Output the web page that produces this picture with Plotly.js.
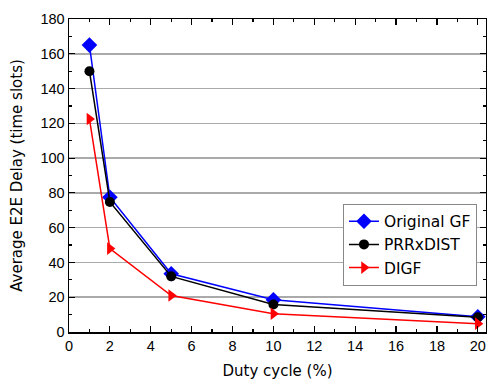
<!DOCTYPE html>
<html>
<head>
<meta charset="utf-8">
<script src="https://cdn.plot.ly/plotly-3.0.1.min.js"></script>
<style>html,body{margin:0;padding:0;background:#fff;}#chart{width:487px;height:381px;}</style>
</head>
<body>
<div id="chart"></div>
<script>
const dutyCycle = [1, 2, 5, 10, 20];
const originalGF = [165, 77.5, 33.5, 18.5, 8.8];
const prrDist = [150, 74.8, 32, 15.8, 8.5];
const digf = [122.5, 48, 21, 10.5, 4.8];
const seriesNames = ["Original GF", "PRRxDIST", "DIGF"];

const tickFont = "Liberation Sans, Arial, sans-serif";
const textFont = "DejaVu Sans, sans-serif";
const traces = [
  {x: dutyCycle, y: originalGF, name: seriesNames[0], mode: "lines+markers",
   line: {color: "#0000ff", width: 1.5}, marker: {symbol: "diamond", size: 12, color: "#0000ff"}},
  {x: dutyCycle, y: prrDist, name: seriesNames[1], mode: "lines+markers",
   line: {color: "#000000", width: 1.5}, marker: {symbol: "circle", size: 10, color: "#000000"}},
  {x: dutyCycle, y: digf, name: seriesNames[2], mode: "lines+markers",
   line: {color: "#ff0000", width: 1.5}, marker: {symbol: "triangle-right", size: 11, color: "#ff0000"}}
];
const axisCommon = {
  showline: true, linecolor: "#000", linewidth: 1.5, mirror: "ticks",
  ticks: "inside", ticklen: 6, tickwidth: 1.2, tickcolor: "#000",
  tickfont: {family: tickFont, size: 14.5, color: "#000"}, zeroline: false
};
const layout = {
  width: 487, height: 381,
  margin: {l: 69, r: 1, t: 19, b: 49},
  paper_bgcolor: "#fff", plot_bgcolor: "#fff",
  showlegend: true,
  legend: {x: 0.657, y: 0.41, xanchor: "left", yanchor: "top",
    bordercolor: "#888", borderwidth: 1, bgcolor: "#fff",
    font: {family: textFont, size: 15.5, color: "#000"}, tracegroupgap: 0},
  xaxis: Object.assign({}, axisCommon, {
    range: [0, 20.4], dtick: 2, tick0: 0, showgrid: false,
    minor: {dtick: 1, ticks: "inside", ticklen: 3, tickcolor: "#000"},
    title: {text: "Duty cycle (%)", font: {family: textFont, size: 15, color: "#000"}, standoff: 12}
  }),
  yaxis: Object.assign({}, axisCommon, {
    range: [0, 180], dtick: 20, tick0: 0, showgrid: true, gridcolor: "#aaaaaa", gridwidth: 1.5,
    minor: {dtick: 10, ticks: "inside", ticklen: 3, tickcolor: "#000", showgrid: false},
    title: {text: "Average E2E Delay (time slots)", font: {family: textFont, size: 15, color: "#000"}, standoff: 14}
  })
};
Plotly.newPlot("chart", traces, layout, {displayModeBar: false, staticPlot: true});
</script>
</body>
</html>
